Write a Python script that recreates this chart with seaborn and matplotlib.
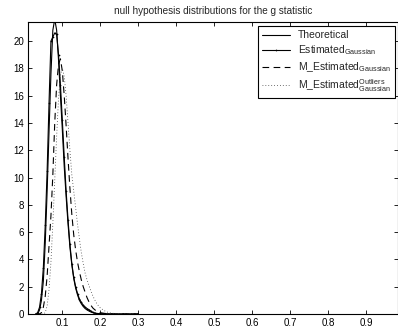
import matplotlib
matplotlib.use("Agg")
import matplotlib.pyplot as plt
import seaborn as sns

# x grid
x = [0.030, 0.035, 0.040, 0.045, 0.050, 0.055, 0.060, 0.065, 0.070, 0.075,
     0.080, 0.085, 0.090, 0.095, 0.100, 0.105, 0.110, 0.115, 0.120, 0.125,
     0.130, 0.135, 0.140, 0.145, 0.150, 0.155, 0.160, 0.165, 0.170, 0.175,
     0.180, 0.185, 0.190, 0.195, 0.200, 0.210, 0.220, 0.230, 0.240, 0.250,
     0.260, 0.270, 0.280, 0.290, 0.300]

theoretical = [0.0, 0.0, 0.3, 1.0, 2.4, 5.2, 9.0, 13.4, 17.6, 20.8,
               21.6, 20.8, 18.6, 16.0, 13.5, 10.8, 8.6, 6.6, 4.9, 3.6,
               2.6, 1.9, 1.4, 1.0, 0.75, 0.55, 0.4, 0.3, 0.22, 0.15,
               0.1, 0.07, 0.05, 0.03, 0.02, 0.01, 0.005, 0.0, 0.0, 0.0,
               0.0, 0.0, 0.0, 0.0, 0.0]

estimated = [0.0, 0.1, 0.5, 1.5, 3.4, 6.5, 10.5, 15.5, 20.0, 20.3,
             20.6, 20.5, 19.0, 16.8, 14.2, 11.5, 9.0, 6.9, 5.1, 3.7,
             2.7, 2.0, 1.5, 1.1, 0.85, 0.65, 0.5, 0.4, 0.32, 0.22,
             0.12, 0.06, 0.03, 0.02, 0.01, 0.005, 0.0, 0.0, 0.0, 0.0,
             0.0, 0.0, 0.0, 0.0, 0.0]

m_estimated = [0.0, 0.0, 0.0, 0.1, 0.5, 1.3, 2.8, 5.0, 7.2, 10.2,
               14.0, 16.8, 18.3, 18.7, 17.8, 16.0, 13.8, 11.4, 9.2, 7.3,
               5.8, 4.7, 3.8, 3.1, 2.5, 2.0, 1.6, 1.2, 0.9, 0.65,
               0.45, 0.32, 0.22, 0.15, 0.1, 0.05, 0.02, 0.01, 0.0, 0.0,
               0.0, 0.0, 0.0, 0.0, 0.0]

m_estimated_outliers = [0.0, 0.0, 0.0, 0.0, 0.0, 0.1, 0.6, 1.8, 3.8, 6.6,
                        9.8, 13.0, 15.8, 17.5, 18.0, 17.4, 16.0, 14.0, 12.0, 10.2,
                        9.0, 7.8, 6.6, 5.5, 4.5, 3.7, 3.0, 2.5, 2.1, 1.7,
                        1.35, 1.05, 0.8, 0.6, 0.45, 0.25, 0.12, 0.06, 0.03, 0.015,
                        0.008, 0.005, 0.003, 0.0, 0.0]

labels = ["Theoretical",
          r"Estimated$_{\mathrm{Gaussian}}$",
          r"M_Estimated$_{\mathrm{Gaussian}}$",
          r"M_Estimated$^{\mathrm{Outliers}}_{\mathrm{Gaussian}}$"]
xticks = [0.1, 0.2, 0.3, 0.4, 0.5, 0.6, 0.7, 0.8, 0.9]
yticks = [0, 2, 4, 6, 8, 10, 12, 14, 16, 18, 20]
title = "null hypothesis distributions for the g statistic"

sns.set_style("ticks")
plt.rcParams['font.family'] = ['Liberation Sans', 'DejaVu Sans']
plt.rcParams['mathtext.fontset'] = 'custom'
plt.rcParams['mathtext.rm'] = 'Liberation Sans'

fig = plt.figure(figsize=(3.98, 3.33), dpi=100)
ax = fig.add_axes([28 / 398, 1 - 314 / 333, 369.5 / 398, 292 / 333])

sns.lineplot(x=x, y=theoretical, ax=ax, color="black", lw=0.8, label=labels[0])
sns.lineplot(x=x, y=estimated, ax=ax, color="black", lw=0.8, marker=".",
             markersize=2.5, markeredgewidth=0, label=labels[1])
sns.lineplot(x=x, y=m_estimated, ax=ax, color="black", lw=0.8,
             linestyle=(0, (6, 4)), label=labels[2])
sns.lineplot(x=x, y=m_estimated_outliers, ax=ax, color="#444444", lw=0.6,
             linestyle=(0, (1, 2.5)), label=labels[3])

ax.set_xlim(0.0096, 0.9825)
ax.set_ylim(0, 21.4)
ax.set_xticks(xticks)
ax.set_xticklabels([f"{t:g}" for t in xticks])
ax.set_yticks(yticks)
ax.tick_params(direction="in", top=True, right=True, labelsize=7, length=3,
               width=0.6, pad=3, colors="black")
for s in ax.spines.values():
    s.set_linewidth(0.8)
    s.set_color("black")
ax.set_title(title, fontsize=7.2, pad=6)

leg = ax.legend(loc="upper right", fontsize=7.5, handlelength=2.7,
                frameon=True, fancybox=False, borderpad=0.4,
                labelspacing=0.3, handletextpad=0.8, borderaxespad=0,
                bbox_to_anchor=(0.994, 0.986))
leg.get_frame().set_edgecolor("black")
leg.get_frame().set_linewidth(0.8)
leg.get_frame().set_alpha(1)

fig.savefig("out.png", dpi=100)
